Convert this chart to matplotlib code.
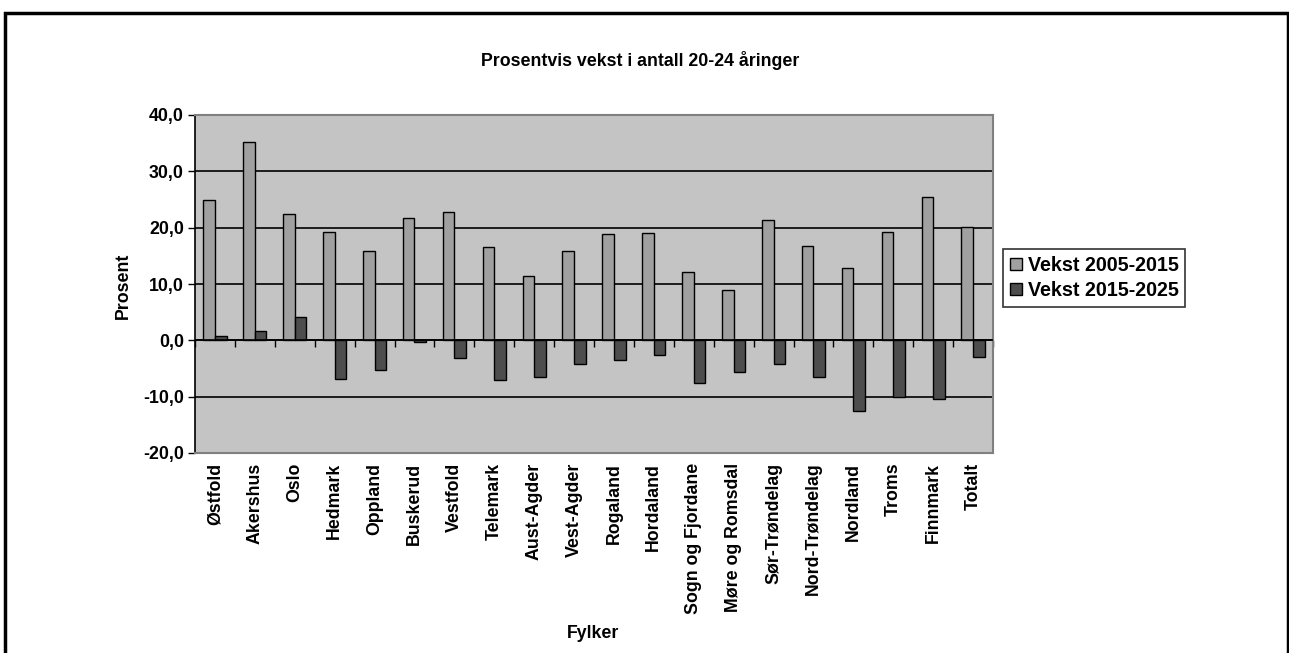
import numpy as np
import matplotlib
matplotlib.use("Agg")
import matplotlib.pyplot as plt
from matplotlib.patches import Rectangle
from matplotlib.ticker import FuncFormatter

plt.rcParams['font.family'] = ['Liberation Sans', 'DejaVu Sans']
plt.rcParams['font.weight'] = 'bold'

fylker = ["Østfold", "Akershus", "Oslo", "Hedmark", "Oppland", "Buskerud",
          "Vestfold", "Telemark", "Aust-Agder", "Vest-Agder", "Rogaland",
          "Hordaland", "Sogn og Fjordane", "Møre og Romsdal", "Sør-Trøndelag",
          "Nord-Trøndelag", "Nordland", "Troms", "Finnmark", "Totalt"]
vekst_05_15 = [24.9, 35.2, 22.5, 19.3, 15.9, 21.8, 22.8, 16.5, 11.5, 15.9,
               18.8, 19.1, 12.1, 8.9, 21.3, 16.8, 12.8, 19.3, 25.5, 20.2]
vekst_15_25 = [0.7, 1.7, 4.1, -6.8, -5.2, -0.3, -3.2, -7.0, -6.5, -4.2,
               -3.5, -2.6, -7.5, -5.6, -4.2, -6.5, -12.5, -10.1, -10.4, -3.0]

fs = 12.8

fig = plt.figure(figsize=(12.89, 6.53), dpi=100)
ax = fig.add_axes([195/1289, 1-453/653, (993-195)/1289, (453-115)/653])
ax.set_facecolor("#C4C4C4")

x = np.arange(len(fylker))
w = 0.29
b1 = ax.bar(x - w/2, vekst_05_15, w, color="#A0A0A0", edgecolor="black", lw=1, zorder=3,
            label="Vekst 2005-2015")
b2 = ax.bar(x + w/2, vekst_15_25, w, color="#4D4D4D", edgecolor="black", lw=1, zorder=3,
            label="Vekst 2015-2025")

ymin, ymax = -20, 40
ax.set_ylim(ymin, ymax)
ax.set_xlim(-0.5, len(fylker) - 0.5)
ax.set_yticks(np.arange(-20, 41, 10))
ax.yaxis.set_major_formatter(FuncFormatter(lambda v, p: f"{v:.1f}".replace(".", ",")))
ax.yaxis.grid(True, color="black", lw=1.2, zorder=1)
ax.axhline(0, color="black", lw=1.2, zorder=4)
ax.tick_params(axis="y", direction="out", length=5, width=1, labelsize=fs, pad=3)

ax.set_xticks(x)
ax.set_xticklabels(fylker, rotation=90, fontsize=fs, fontweight="bold", va="top")
ax.tick_params(axis="x", length=0, pad=7)

for s in ["top", "right", "bottom"]:
    ax.spines[s].set_color("#808080")
    ax.spines[s].set_linewidth(1.5)
ax.spines["left"].set_color("black")
ax.spines["left"].set_linewidth(1.2)

# category boundary ticks on the zero line
sec = ax.secondary_xaxis((0 - ymin) / (ymax - ymin))
sec.set_xticks(np.arange(-0.5, len(fylker), 1.0))
sec.tick_params(direction="out", length=5, width=1, labelbottom=False, labeltop=False)
sec.spines["bottom"].set_visible(False)
sec.spines["top"].set_visible(False)

fig.text(123/1289, 1-286/653, "Prosent", rotation=90, ha="center", va="center",
         fontsize=fs, fontweight="bold")
fig.text(593/1289, 1-633/653, "Fylker", ha="center", va="center", fontsize=fs, fontweight="bold")
fig.text(640/1289, 1-61/653, "Prosentvis vekst i antall 20-24 åringer", ha="center", va="center",
         fontsize=fs, fontweight="bold")

leg = fig.legend(handles=[b1, b2], loc="center left", bbox_to_anchor=(1003/1289, 1-278/653),
                 fontsize=14.2, frameon=True, fancybox=False, edgecolor="black",
                 handlelength=0.6, handleheight=0.6, handletextpad=0.3, borderpad=0.35,
                 labelspacing=0.3, borderaxespad=0)
leg.get_frame().set_linewidth(1.2)
for t in leg.get_texts():
    t.set_fontweight("bold")

fig.patches.append(Rectangle((5/1289, -0.1), (1288-5)/1289, 1.1 - 13/653, transform=fig.transFigure,
                             fill=False, edgecolor="black", lw=2.5))

fig.savefig("out.png", dpi=100, facecolor="white")
